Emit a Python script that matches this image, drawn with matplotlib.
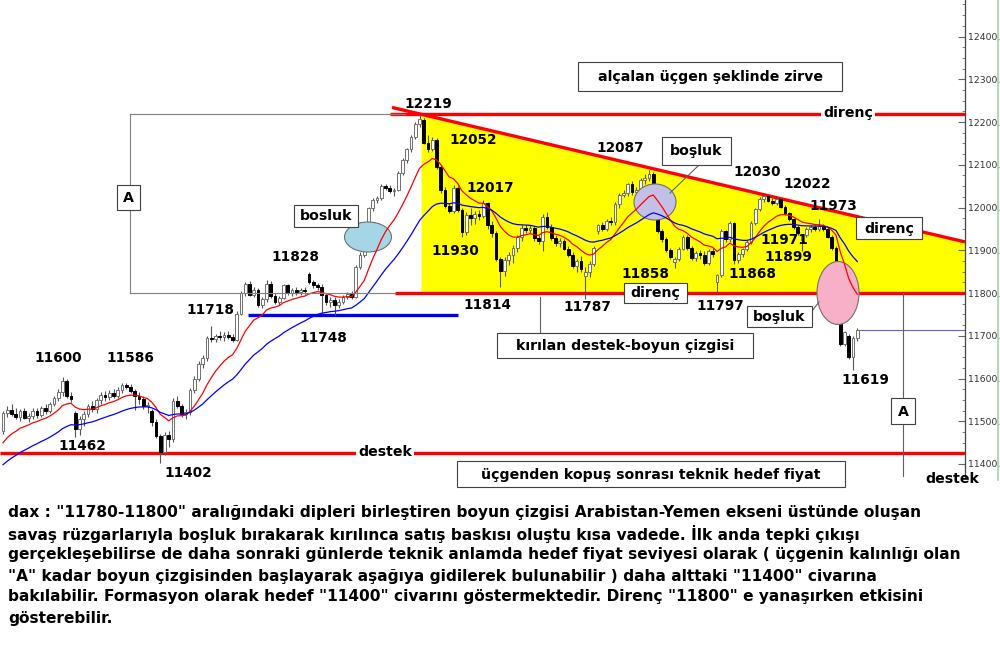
import numpy as np
import matplotlib
matplotlib.use("Agg")
import matplotlib.pyplot as plt
import matplotlib.transforms as mtransforms
from matplotlib.patches import Rectangle, Ellipse
from matplotlib.lines import Line2D
from matplotlib.ticker import MultipleLocator

plt.rcParams['font.family'] = ['DejaVu Sans']

# ---------------- DATA (DAX candles) ----------------
opens = [
    11478, 11520, 11526, 11518, 11510, 11524, 11508, 11512, 11525, 11514,
    11530, 11524, 11540, 11555, 11568, 11595, 11560, 11520, 11482, 11505,
    11518, 11535, 11528, 11550, 11562, 11556, 11566, 11560, 11574, 11585,
    11580, 11570, 11560, 11552, 11535, 11525, 11498, 11465, 11428, 11468,
    11458, 11548, 11536, 11516, 11522, 11572, 11600, 11635, 11648, 11695,
    11692, 11700, 11696, 11702, 11698, 11690, 11752, 11800, 11822, 11796,
    11808, 11772, 11785, 11822, 11792, 11780, 11788, 11818, 11800, 11806,
    11802, 11808, 11845, 11826, 11818, 11815, 11795, 11778, 11784, 11772,
    11780, 11790, 11798, 11790, 11860, 11890, 11962, 11998, 12018, 12022,
    12050, 12046, 12038, 12042, 12080, 12110, 12136, 12165, 12195, 12205,
    12152, 12138, 12158, 12095, 12040, 12004, 11992, 12045, 11995, 11942,
    11982, 11975, 11985, 11980, 12010, 11958, 11940, 11880, 11852, 11878,
    11888, 11905, 11930, 11952, 11948, 11952, 11928, 11922, 11978, 11955,
    11928, 11918, 11922, 11904, 11890, 11862, 11874, 11840, 11850, 11868,
    11945, 11958, 11950, 11968, 11965, 12008, 12030, 12033, 12054, 12036,
    12042, 12064, 12070, 12078, 11980, 11945, 11926, 11900, 11872, 11880,
    11904, 11930, 11905, 11882, 11894, 11890, 11870, 11898, 11825, 11842,
    11945, 11926, 11964, 11878, 11892, 11902, 11920, 11964, 11996, 12020,
    12026, 12016, 12010, 12020, 12002, 11986, 11972, 11955, 11925, 11935,
    11950, 11954, 11950, 11956, 11950, 11932, 11905, 11741, 11680, 11700,
    11650, 11695,
]
highs = [
    11525, 11535, 11540, 11530, 11528, 11532, 11520, 11530, 11532, 11535,
    11540, 11545, 11560, 11575, 11603, 11600, 11568, 11525, 11512, 11525,
    11540, 11548, 11555, 11568, 11570, 11572, 11575, 11580, 11590, 11590,
    11586, 11575, 11568, 11558, 11545, 11528, 11505, 11470, 11475, 11478,
    11555, 11560, 11540, 11528, 11578, 11605, 11640, 11655, 11700, 11722,
    11705, 11710, 11708, 11710, 11705, 11758, 11805, 11825, 11828, 11815,
    11812, 11790, 11830, 11828, 11800, 11792, 11822, 11822, 11812, 11815,
    11812, 11814, 11850, 11830, 11824, 11820, 11798, 11790, 11790, 11785,
    11795, 11802, 11805, 11865, 11895, 11908, 12002, 12022, 12028, 12055,
    12056, 12052, 12045, 12085, 12115, 12140, 12170, 12200, 12219, 12210,
    12170, 12165, 12162, 12100, 12048, 12010, 12052, 12050, 12000, 11990,
    11998, 11992, 11995, 12017, 12014, 11968, 11945, 11885, 11885, 11895,
    11912, 11935, 11958, 11960, 11958, 11956, 11935, 11985, 11990, 11962,
    11935, 11928, 11926, 11910, 11895, 11880, 11886, 11860, 11875, 11910,
    11962, 11965, 11972, 11978, 12012, 12035, 12040, 12058, 12062, 12048,
    12068, 12078, 12087, 12082, 11985, 11950, 11930, 11905, 11885, 11908,
    11935, 11936, 11910, 11898, 11900, 11898, 11902, 11905, 11845, 11950,
    11948, 11968, 11966, 11896, 11905, 11925, 11968, 12000, 12025, 12030,
    12030, 12022, 12025, 12024, 12006, 11990, 11976, 11960, 11938, 11955,
    11958, 11960, 11973, 11962, 11955, 11935, 11910, 11745, 11712, 11705,
    11700, 11718,
]
lows = [
    11470, 11510, 11512, 11505, 11500, 11505, 11498, 11505, 11508, 11510,
    11518, 11520, 11535, 11548, 11560, 11555, 11545, 11462, 11468, 11490,
    11510, 11522, 11520, 11540, 11548, 11550, 11555, 11555, 11565, 11575,
    11565, 11527, 11540, 11528, 11520, 11490, 11460, 11402, 11420, 11440,
    11452, 11530, 11510, 11505, 11515, 11565, 11595, 11625, 11640, 11685,
    11685, 11690, 11688, 11692, 11685, 11688, 11748, 11792, 11792, 11790,
    11768, 11765, 11780, 11788, 11775, 11772, 11785, 11795, 11792, 11796,
    11795, 11798, 11820, 11812, 11808, 11752, 11772, 11768, 11748, 11765,
    11775, 11785, 11785, 11788, 11855, 11885, 11958, 11992, 12010, 12018,
    12040, 12034, 12028, 12038, 12075, 12105, 12130, 12160, 12188, 12148,
    12130, 12132, 12090, 12035, 12000, 11988, 11988, 11990, 11930, 11935,
    11960, 11962, 11970, 11975, 11950, 11932, 11875, 11814, 11840, 11865,
    11870, 11895, 11922, 11940, 11940, 11922, 11915, 11898, 11950, 11925,
    11910, 11908, 11900, 11885, 11858, 11850, 11850, 11787, 11838, 11862,
    11938, 11945, 11945, 11960, 11960, 12000, 12025, 12028, 12030, 12030,
    12038, 12055, 12062, 12045, 11940, 11920, 11895, 11880, 11858, 11875,
    11900, 11900, 11878, 11875, 11880, 11866, 11865, 11885, 11797, 11838,
    11920, 11920, 11868, 11870, 11885, 11898, 11915, 11960, 11992, 12012,
    12012, 12005, 12005, 11998, 11982, 11968, 11950, 11936, 11899, 11930,
    11942, 11945, 11944, 11945, 11928, 11900, 11870, 11675, 11675, 11645,
    11619, 11688,
]
closes = [
    11520, 11526, 11518, 11510, 11524, 11508, 11512, 11525, 11514, 11530,
    11524, 11540, 11555, 11568, 11595, 11560, 11552, 11482, 11505, 11518,
    11535, 11528, 11550, 11562, 11556, 11566, 11560, 11574, 11585, 11580,
    11570, 11560, 11552, 11535, 11538, 11498, 11465, 11428, 11468, 11458,
    11548, 11536, 11516, 11522, 11572, 11600, 11635, 11648, 11695, 11692,
    11700, 11696, 11702, 11698, 11690, 11752, 11800, 11822, 11796, 11808,
    11772, 11785, 11822, 11792, 11780, 11788, 11818, 11800, 11806, 11802,
    11808, 11804, 11826, 11818, 11815, 11795, 11778, 11784, 11772, 11780,
    11790, 11798, 11790, 11860, 11890, 11905, 11998, 12018, 12022, 12050,
    12046, 12038, 12042, 12080, 12110, 12136, 12165, 12195, 12208, 12152,
    12138, 12158, 12095, 12040, 12004, 11992, 12045, 11995, 11942, 11982,
    11975, 11985, 11980, 12010, 11958, 11940, 11880, 11852, 11878, 11888,
    11905, 11930, 11952, 11948, 11952, 11928, 11922, 11978, 11955, 11928,
    11918, 11922, 11904, 11890, 11862, 11874, 11855, 11850, 11868, 11905,
    11958, 11950, 11968, 11965, 12008, 12030, 12033, 12054, 12036, 12042,
    12064, 12070, 12078, 12050, 11945, 11926, 11900, 11885, 11880, 11904,
    11930, 11905, 11882, 11894, 11890, 11870, 11898, 11892, 11842, 11945,
    11926, 11964, 11878, 11892, 11902, 11920, 11964, 11996, 12020, 12026,
    12016, 12010, 12020, 12002, 11986, 11972, 11955, 11940, 11935, 11950,
    11954, 11950, 11956, 11950, 11932, 11905, 11875, 11680, 11708, 11650,
    11695, 11714,
]

# moving averages (seed values read at the left edge)
ema_fast_seed, ema_fast_span = 11437, 12
ema_slow_seed, ema_slow_span = 11390, 30

# levels
resistance_level = 12219
neckline_level = 11800
support_level = 11425
blue_support_level = 11748
last_price_level = 11714
tri_top_idx, tri_top_val = 98, 12219      # 12219 peak
tri_mid_idx, tri_mid_val = 179, 12030     # 12030 peak

yticks = list(range(11400, 12401, 100))
ytick_labels = [f"{v}," for v in yticks]

price_labels = [
    ("12219", 428, 104), ("12052", 473, 140), ("12087", 620, 148),
    ("12017", 490, 188), ("11930", 455, 251), ("11814", 487, 305),
    ("11787", 587, 307), ("11858", 645, 274), ("11797", 720, 306),
    ("12030", 757, 172), ("12022", 807, 184), ("11973", 833, 206),
    ("11971", 784, 240), ("11899", 788, 257), ("11868", 752, 274),
    ("11828", 295, 257), ("11718", 210, 310), ("11748", 323, 338),
    ("11600", 58, 358), ("11586", 130, 358), ("11462", 82, 446),
    ("11402", 188, 473), ("11619", 865, 380),
]

box_labels = [
    ("alçalan üçgen şeklinde zirve", 578, 62, 264, 29),
    ("bosluk", 294, 205, 64, 22),
    ("boşluk", 662, 137, 69, 28),
    ("boşluk", 747, 306, 65, 21),
    ("direnç", 856, 217, 66, 22),
    ("direnç", 624, 283, 63, 20),
    ("kırılan destek-boyun çizgisi", 497, 333, 256, 25),
    ("üçgenden kopuş sonrası teknik hedef fiyat", 457, 461, 388, 26),
    ("A", 117, 185, 23, 25),
    ("A", 891, 398, 24, 26),
]

paragraph = [
    'dax : "11780-11800" aralığındaki dipleri birleştiren boyun çizgisi Arabistan-Yemen ekseni üstünde oluşan',
    'savaş rüzgarlarıyla boşluk bırakarak kırılınca satış baskısı oluştu kısa vadede. İlk anda tepki çıkışı',
    'gerçekleşebilirse de daha sonraki günlerde teknik anlamda hedef fiyat seviyesi olarak ( üçgenin kalınlığı olan',
    '"A" kadar boyun çizgisinden başlayarak aşağıya gidilerek bulunabilir ) daha alttaki "11400" civarına',
    'bakılabilir. Formasyon olarak hedef "11400" civarını göstermektedir. Direnç "11800" e yanaşırken etkisini',
    'gösterebilir.',
]

# ---------------- FIGURE ----------------
W, H = 1000, 668
fig = plt.figure(figsize=(W / 100, H / 100), dpi=100)
fig.patch.set_facecolor('white')

AX_H = 478
SP, X0 = 4.25, 3.0


def xi(px):
    return (px - X0) / SP


ax = fig.add_axes([0, 1 - AX_H / H, 965 / W, AX_H / H])
ax.set_facecolor('white')
xmin, xmax = xi(0), xi(965)
ax.set_xlim(xmin, xmax)
ax.set_ylim(11367.25, 12485.4)
PX = mtransforms.Affine2D().scale(1 / W, -1 / H).translate(0, 1) + fig.transFigure

for s in ['left', 'top', 'bottom']:
    ax.spines[s].set_visible(False)
ax.spines['right'].set_color('#444444')
ax.spines['right'].set_linewidth(0.9)
ax.xaxis.set_visible(False)
ax.yaxis.tick_right()
ax.set_yticks(yticks)
ax.set_yticklabels(ytick_labels)
ax.yaxis.set_minor_locator(MultipleLocator(25))
ax.tick_params(axis='y', which='major', direction='in', length=5, width=0.8,
               color='#666666', labelsize=6.7, labelcolor='#333333', pad=2)
ax.tick_params(axis='y', which='minor', direction='in', length=2.5, width=0.6,
               color='#666666')

# triangle (yellow)
def tri_line(x):
    slope = (tri_mid_val - tri_top_val) / (tri_mid_idx - tri_top_idx)
    return tri_top_val + slope * (np.asarray(x) - tri_top_idx)

xf = np.array([xi(421), xmax])
ax.fill_between(xf, neckline_level, tri_line(xf), color='#ffff00', lw=0, zorder=1)

# red levels
ax.plot([xi(390), xmax], [resistance_level] * 2, color='#ff0000', lw=2.4, zorder=2,
        solid_capstyle='butt')
xd = np.array([xi(392), xmax])
ax.plot(xd, tri_line(xd), color='#ff0000', lw=2.4, zorder=2, solid_capstyle='butt')
ax.plot([xi(395), xmax], [neckline_level] * 2, color='#ff0000', lw=2.4, zorder=2,
        solid_capstyle='butt')
ax.plot([xmin, xmax], [support_level] * 2, color='#ff0000', lw=2.4, zorder=2,
        solid_capstyle='butt')
ax.plot([xi(248), xi(458)], [blue_support_level] * 2, color='#0000ee', lw=2.4,
        zorder=2, solid_capstyle='butt')
ax.plot([xi(858), xmax], [last_price_level] * 2, color='#6060c8', lw=0.8, zorder=2)

# candles
o = np.array(opens, float)
h = np.array(highs, float)
l = np.array(lows, float)
c = np.array(closes, float)
x = np.arange(len(c))
up = c >= o
ax.vlines(x, l, h, color='#555555', lw=0.8, zorder=3)
ax.bar(x[up], np.maximum(c - o, 1)[up], bottom=o[up], width=0.68, color='white',
       edgecolor='#707070', lw=0.7, zorder=4)
ax.bar(x[~up], (o - c)[~up], bottom=c[~up], width=0.68, color='black',
       edgecolor='black', lw=0.7, zorder=4)

# ellipses
for (cx, cy, ew, eh, fc) in [(368, 237, 47, 30, '#a4d6e6'),
                             (655, 202, 42, 36, '#c4bfe6'),
                             (838, 293, 42, 63, '#f8b0c8')]:
    ax.add_patch(Ellipse((cx, cy), ew, eh, transform=PX, facecolor=fc,
                         edgecolor='#707070', lw=0.8, zorder=4.5, clip_on=False))

# moving averages
def ema(vals, seed, span):
    a = 2.0 / (span + 1)
    m = seed
    out = []
    for v in vals:
        m = m + a * (v - m)
        out.append(m)
    return np.array(out)

ax.plot(x, ema(c, ema_fast_seed, ema_fast_span), color='#ff0000', lw=0.9, zorder=5)
ax.plot(x, ema(c, ema_slow_seed, ema_slow_span), color='#0000ff', lw=0.9, zorder=5)

# gray guide lines (pixel space)
def pline(xs, ys, col='#808080', lw=0.8):
    ax.add_line(Line2D(xs, ys, transform=PX, color=col, lw=lw, zorder=5.5,
                       clip_on=False))

pline([130, 405], [114, 114])
pline([130, 130], [114, 293])
pline([130, 395], [293, 293])
pline([903, 903], [293, 476], col='#606060')
pline([540, 540], [297, 333], col='#606060')
pline([670, 699], [193, 165], col='#606060')
pline([812, 819], [311, 302], col='#606060')

# boxes
for (txt, bx, by, bw, bh) in box_labels:
    ax.add_patch(Rectangle((bx, by), bw, bh, transform=PX, facecolor='white',
                           edgecolor='#404040', lw=0.8, zorder=6, clip_on=False))
    ax.text(bx + bw / 2, by + bh / 2 + 0.5, txt, transform=PX, ha='center',
            va='center', fontsize=10.2, fontweight='bold', color='black',
            zorder=7, clip_on=False)

# labels on lines
ax.text(848, 113, "direnç", transform=PX, ha='center', va='center', fontsize=10.2,
        fontweight='bold', zorder=7,
        bbox=dict(facecolor='white', edgecolor='none', pad=1.5))
ax.text(385, 452, "destek", transform=PX, ha='center', va='center', fontsize=10.2,
        fontweight='bold', zorder=7,
        bbox=dict(facecolor='white', edgecolor='none', pad=1.5))
ax.text(952, 479, "destek", transform=PX, ha='center', va='center', fontsize=10.2,
        fontweight='bold', zorder=7, clip_on=False)

for (txt, px_, py_) in price_labels:
    ax.text(px_, py_, txt, transform=PX, ha='center', va='center', fontsize=9.8,
            fontweight='bold', color='black', zorder=7, clip_on=False)

# right green border
fig.add_artist(Line2D([998 / W, 998 / W], [1, 1 - 480 / H], transform=fig.transFigure,
                      color='#a0d8a0', lw=1.2))

# paragraph
for k, line in enumerate(paragraph):
    fig.text(8 / W, 1 - (513 + 21 * k) / H, line, ha='left', va='center',
             fontsize=11.1, fontweight='bold', color='black')

fig.savefig('out.png', dpi=100, facecolor='white')
